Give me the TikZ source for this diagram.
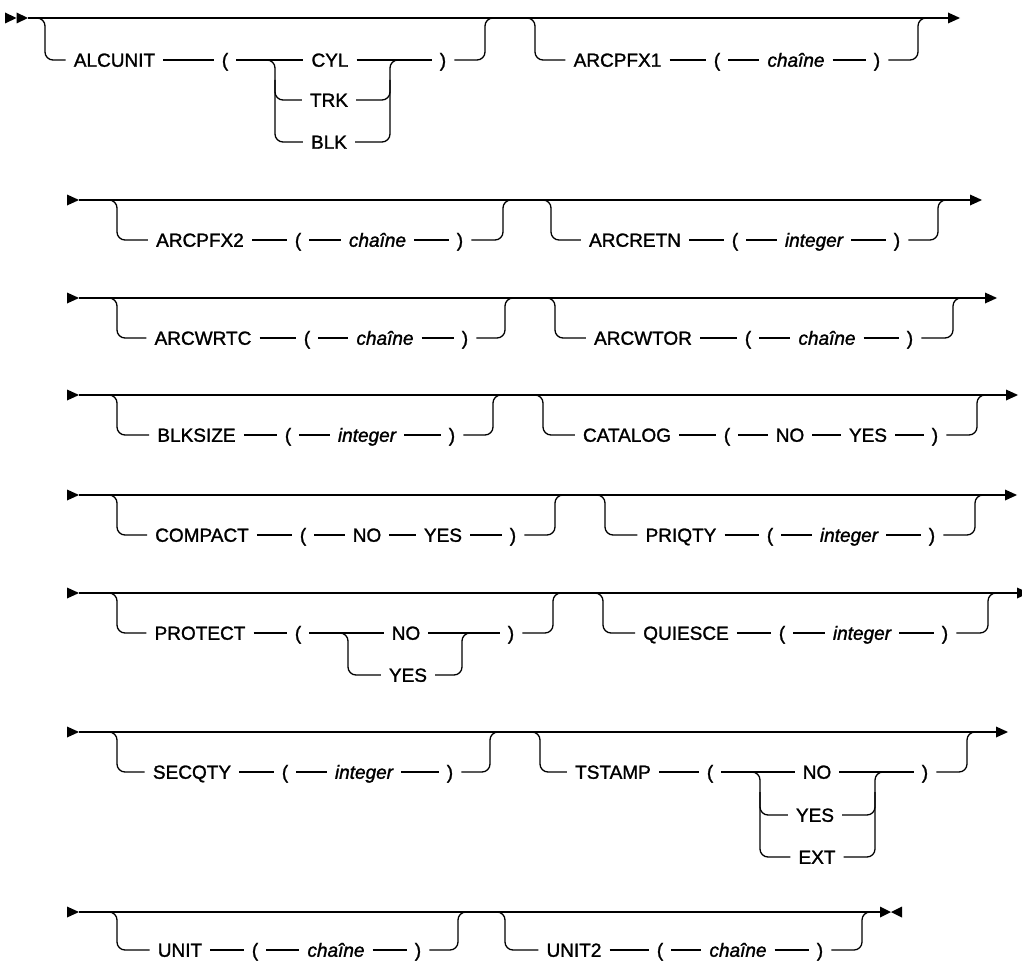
\documentclass[tikz,border=0pt]{standalone}
\usepackage{fontspec}
\setmainfont{Liberation Sans}
\newfontfamily\kwfont{Liberation Sans}[FakeBold=1.4]
\tikzset{
  rail/.style={line width=1.3pt},
  rnd/.style={rail, rounded corners=8pt},
  kw/.style={inner xsep=8pt, inner ysep=0pt, text height=13.5pt, text depth=0pt,
             font=\kwfont\fontsize{19}{21}\selectfont},
}
% keyword ( variable )
\newcommand\kvg[8]{%
  \node[kw] (#1k) at (#4,#2) {#3};
  \node[kw] (#1l) at (#5,#2) {(};
  \node[kw] (#1v) at (#7,#2) {#6};
  \node[kw] (#1r) at (#8,#2) {)};
  \draw[rail] (#1k) -- (#1l) (#1l) -- (#1v) (#1v) -- (#1r);
}
% keyword ( NO YES )
\newcommand\kvny[8]{%
  \node[kw] (#1k) at (#4,#2) {#3};
  \node[kw] (#1l) at (#5,#2) {(};
  \node[kw] (#1n) at (#6,#2) {NO};
  \node[kw] (#1y) at (#7,#2) {YES};
  \node[kw] (#1r) at (#8,#2) {)};
  \draw[rail] (#1k) -- (#1l) (#1l) -- (#1n) (#1n) -- (#1y) (#1y) -- (#1r);
}
% optional bracket: prefix, y0, xl, xr, y1
\newcommand\brk[5]{%
  \draw[rnd] (#3-14,#2) -| (#3,#5) -- (#1k.west);
  \draw[rnd] (#1r.east) -| (#4,#2) -- (#4+14,#2);
}
% filled triangle: base x, y, tip x
\newcommand\tri[3]{\fill (#1,#2-5.5) -- (#3,#2) -- (#1,#2+5.5) -- cycle;}
\begin{document}
\begin{tikzpicture}[x=1pt,y=-1pt]
\useasboundingbox (0,0) rectangle (1022,963);

% ---------- Row 1
\tri{5}{18}{16.5}\tri{16.5}{18}{28}
\coordinate (m1s) at (28,18); \coordinate (m1e) at (948,18);
\draw[rail] (m1s) -- (m1e); \tri{948}{18}{960}
\node[kw] (r1ak) at (114.5,60) {ALCUNIT};
\node[kw] (r1al) at (225,60) {(};
\node[kw] (r1c1) at (330,60) {CYL};
\node[kw] (r1c2) at (329,100) {TRK};
\node[kw] (r1c3) at (329,142) {BLK};
\node[kw] (r1ar) at (443,60) {)};
\draw[rail] (r1ak) -- (r1al) (r1al) -- (r1c1) (r1c1) -- (r1ar);
\draw[rnd] (263,60) -| (275,142) -- (r1c3.west);
\draw[rnd] (275,80) |- (r1c2.west);
\draw[rnd] (r1c3.east) -| (390,60) -- (402,60);
\draw[rnd] (r1c2.east) -| (390,80);
\draw[rnd] (31,18) -| (45,60) -- (r1ak.west);
\draw[rnd] (r1ar.east) -| (485,18) -- (499,18);
\kvg{r1b}{60}{ARCPFX1}{617.5}{717}{\itshape chaîne}{796}{877}
\brk{r1b}{18}{535}{918}{60}

% ---------- Row 2
\tri{67}{200}{79}
\coordinate (m2s) at (79,200); \coordinate (m2e) at (970,200);
\draw[rail] (m2s) -- (m2e); \tri{970}{200}{982}
\kvg{r2a}{240}{ARCPFX2}{200}{298}{\itshape chaîne}{377.5}{460}
\brk{r2a}{200}{117}{503}{240}
\kvg{r2b}{240}{ARCRETN}{635}{735}{\itshape integer}{814}{897}
\brk{r2b}{200}{551}{938}{240}

% ---------- Row 3
\tri{67}{298}{79}
\coordinate (m3s) at (79,298); \coordinate (m3e) at (985,298);
\draw[rail] (m3s) -- (m3e); \tri{985}{298}{997}
\kvg{r3a}{338}{ARCWRTC}{203}{307}{\itshape chaîne}{385}{465}
\brk{r3a}{298}{117}{505}{338}
\kvg{r3b}{338}{ARCWTOR}{643}{748}{\itshape chaîne}{827}{910}
\brk{r3b}{298}{555}{953}{338}

% ---------- Row 4
\tri{67}{395}{79}
\coordinate (m4s) at (79,395); \coordinate (m4e) at (1006,395);
\draw[rail] (m4s) -- (m4e); \tri{1006}{395}{1018}
\kvg{r4a}{435}{BLKSIZE}{196.5}{288}{\itshape integer}{367}{452}
\brk{r4a}{395}{117}{493}{435}
\kvny{r4b}{435}{CATALOG}{627}{727}{790}{868}{935}
\brk{r4b}{395}{543}{977}{435}

% ---------- Row 5
\tri{67}{495}{79}
\coordinate (m5s) at (79,495); \coordinate (m5e) at (1005,495);
\draw[rail] (m5s) -- (m5e); \tri{1005}{495}{1017}
\kvny{r5a}{535}{COMPACT}{202}{303}{367}{443}{513}
\brk{r5a}{495}{117}{555}{535}
\kvg{r5b}{535}{PRIQTY}{681}{770}{\itshape integer}{849}{932}
\brk{r5b}{495}{605}{975}{535}

% ---------- Row 6
\tri{67}{593}{79}
\coordinate (m6s) at (79,593); \coordinate (m6e) at (1017,593);
\draw[rail] (m6s) -- (m6e); \tri{1017}{593}{1029}
\node[kw] (r6ak) at (200,633) {PROTECT};
\node[kw] (r6al) at (298,633) {(};
\node[kw] (r6c1) at (406,633) {NO};
\node[kw] (r6c2) at (408,675) {YES};
\node[kw] (r6ar) at (511,633) {)};
\draw[rail] (r6ak) -- (r6al) (r6al) -- (r6c1) (r6c1) -- (r6ar);
\draw[rnd] (336,633) -| (348,675) -- (r6c2.west);
\draw[rnd] (r6c2.east) -| (462,633) -- (474,633);
\brk{r6a}{593}{117}{553}{633}
\kvg{r6b}{633}{QUIESCE}{686}{782}{\itshape integer}{862}{945}
\brk{r6b}{593}{603}{988}{633}

% ---------- Row 7
\tri{67}{732}{79}
\coordinate (m7s) at (79,732); \coordinate (m7e) at (996,732);
\draw[rail] (m7s) -- (m7e); \tri{996}{732}{1008}
\kvg{r7a}{772}{SECQTY}{192}{285}{\itshape integer}{364}{450}
\brk{r7a}{732}{117}{490}{772}
\node[kw] (r7bk) at (613,772) {TSTAMP};
\node[kw] (r7bl) at (710,772) {(};
\node[kw] (r7c1) at (817,772) {NO};
\node[kw] (r7c2) at (815,815) {YES};
\node[kw] (r7c3) at (817,857) {EXT};
\node[kw] (r7br) at (925,772) {)};
\draw[rail] (r7bk) -- (r7bl) (r7bl) -- (r7c1) (r7c1) -- (r7br);
\draw[rnd] (748,772) -| (760,857) -- (r7c3.west);
\draw[rnd] (760,792) |- (r7c2.west);
\draw[rnd] (r7c3.east) -| (875,772) -- (887,772);
\draw[rnd] (r7c2.east) -| (875,792);
\brk{r7b}{732}{540}{967}{772}

% ---------- Row 8
\tri{67}{912}{79}
\coordinate (m8s) at (79,912); \coordinate (m8e) at (880,912);
\draw[rail] (m8s) -- (m8e);
\tri{880}{912}{891}\tri{902}{912}{891}
\kvg{r8a}{950}{UNIT}{180}{255}{\itshape chaîne}{336}{418}
\brk{r8a}{912}{117}{458}{950}
\kvg{r8b}{950}{UNIT2}{574}{660}{\itshape chaîne}{738}{820}
\brk{r8b}{912}{505}{862}{950}
\end{tikzpicture}
\end{document}
